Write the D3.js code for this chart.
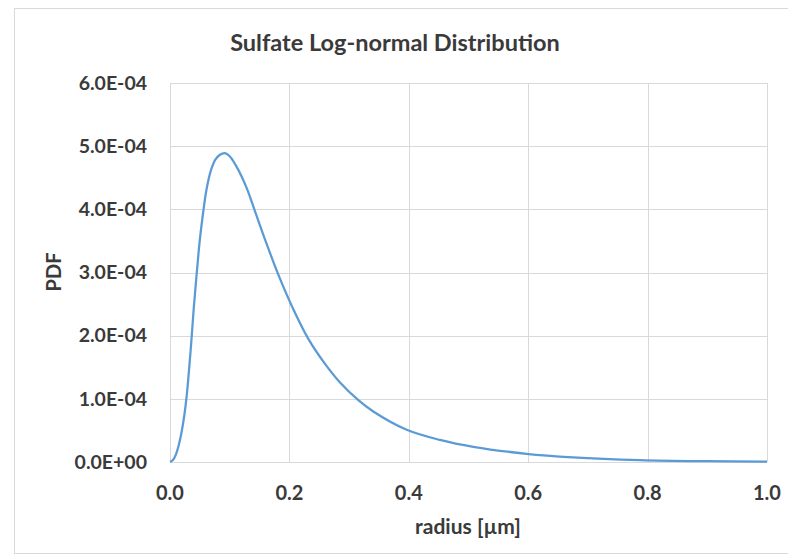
<!DOCTYPE html>
<html>
<head>
<meta charset="utf-8">
<script src="https://cdn.jsdelivr.net/npm/d3@7.9.0/dist/d3.min.js"></script>
<style>
  body { margin: 0; background: #fff; }
  text { font-family: Lato, "Open Sans", sans-serif; fill: #3a3a3a; font-weight: bold; }
</style>
</head>
<body>
<svg id="chart" width="788" height="556"></svg>
<script>
// radius [µm]
const radius = [0, 0.005, 0.010, 0.015, 0.0195, 0.024, 0.028, 0.032, 0.0363, 0.040,
  0.0447, 0.050, 0.0558, 0.060, 0.064, 0.070, 0.0754, 0.083, 0.092, 0.100,
  0.110, 0.120, 0.130, 0.142, 0.160, 0.183, 0.205, 0.2317, 0.260, 0.2848,
  0.3155, 0.3405, 0.3965, 0.452, 0.508, 0.597, 0.675, 0.787, 0.900, 1.000];
// PDF values (x 1e-4)
const pdf = [0, 0.03, 0.12, 0.28, 0.48, 0.74, 1.05, 1.47, 1.98, 2.46,
  2.98, 3.52, 3.97, 4.25, 4.45, 4.66, 4.78, 4.86, 4.89, 4.84,
  4.70, 4.52, 4.30, 3.98, 3.5, 2.93, 2.45, 1.95, 1.55, 1.26,
  0.98, 0.80, 0.51, 0.35, 0.24, 0.13, 0.074, 0.03, 0.012, 0.005].map(v => v * 1e-4);

const xTicks = [0, 0.2, 0.4, 0.6, 0.8, 1.0];
const xTickLabels = ['0.0', '0.2', '0.4', '0.6', '0.8', '1.0'];
const yTicks = [0, 1e-4, 2e-4, 3e-4, 4e-4, 5e-4, 6e-4];
const yTickLabels = ['0.0E+00', '1.0E-04', '2.0E-04', '3.0E-04', '4.0E-04', '5.0E-04', '6.0E-04'];

const svg = d3.select('#chart');

// chart area border
svg.append('rect')
  .attr('x', 14.5).attr('y', 8.5)
  .attr('width', 790).attr('height', 545)
  .attr('fill', 'none')
  .attr('stroke', '#d9d9d9');

const margin = { left: 170, right: 767, top: 83, bottom: 462 };

const x = d3.scaleLinear().domain([0, 1]).range([margin.left, margin.right]);
const y = d3.scaleLinear().domain([0, 6e-4]).range([margin.bottom, margin.top]);

// gridlines
svg.append('g')
  .selectAll('line')
  .data(yTicks)
  .join('line')
  .attr('x1', margin.left).attr('x2', margin.right)
  .attr('y1', d => Math.round(y(d)) + 0.5).attr('y2', d => Math.round(y(d)) + 0.5)
  .attr('stroke', '#d9d9d9');

svg.append('g')
  .selectAll('line')
  .data(xTicks)
  .join('line')
  .attr('y1', margin.top).attr('y2', margin.bottom)
  .attr('x1', d => Math.round(x(d)) + 0.5).attr('x2', d => Math.round(x(d)) + 0.5)
  .attr('stroke', '#d9d9d9');

// tick labels
svg.append('g')
  .selectAll('text')
  .data(yTicks)
  .join('text')
  .attr('x', 147)
  .attr('y', d => y(d))
  .attr('dy', '0.35em')
  .attr('text-anchor', 'end')
  .style('font-size', '19.5px')
  .text((d, i) => yTickLabels[i]);

svg.append('g')
  .selectAll('text')
  .data(xTicks)
  .join('text')
  .attr('x', d => x(d))
  .attr('y', 493)
  .attr('dy', '0.35em')
  .attr('text-anchor', 'middle')
  .style('font-size', '20px')
  .text((d, i) => xTickLabels[i]);

// the curve
const line = d3.line()
  .x(d => x(d[0]))
  .y(d => y(d[1]))
  .curve(d3.curveCatmullRom.alpha(0.5));

svg.append('path')
  .datum(radius.map((r, i) => [r, pdf[i]]))
  .attr('d', line)
  .attr('fill', 'none')
  .attr('stroke', '#5b9bd5')
  .attr('stroke-width', 2.25);

// titles
svg.append('text')
  .attr('x', 395).attr('y', 43)
  .attr('dy', '0.35em')
  .attr('text-anchor', 'middle')
  .style('font-size', '23.5px')
  .text('Sulfate Log-normal Distribution');

svg.append('text')
  .attr('x', 468).attr('y', 527)
  .attr('dy', '0.35em')
  .attr('text-anchor', 'middle')
  .style('font-size', '21px')
  .text('radius [µm]');

svg.append('text')
  .attr('transform', 'translate(54,272) rotate(-90)')
  .attr('dy', '0.35em')
  .attr('text-anchor', 'middle')
  .style('font-size', '20px')
  .text('PDF');
</script>
</body>
</html>
